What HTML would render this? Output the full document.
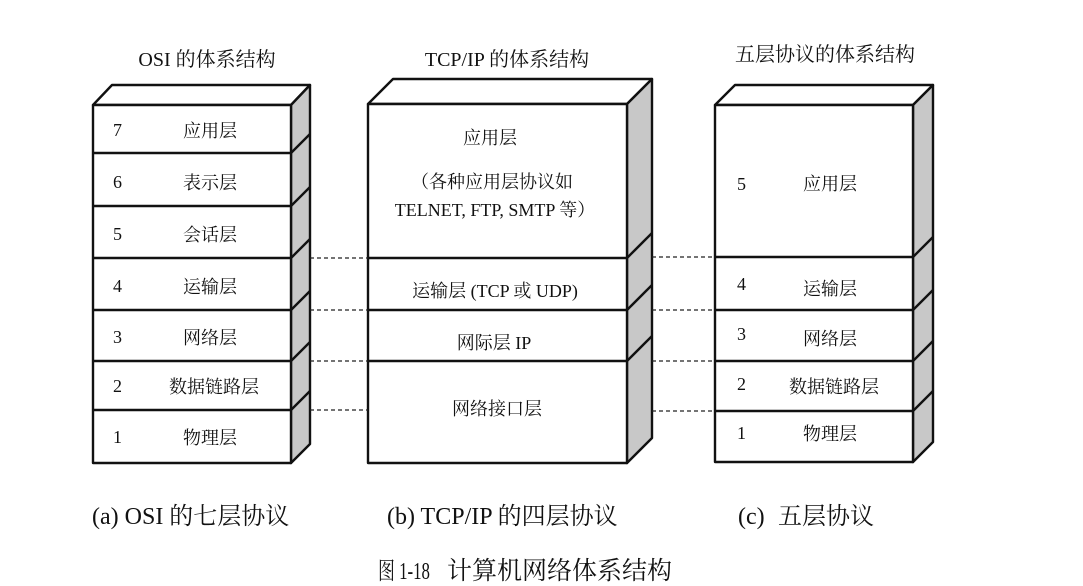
<!DOCTYPE html>
<html><head><meta charset="utf-8"><style>
html,body{margin:0;padding:0;background:#fff;}
svg{display:block;}
text{font-family:"Liberation Serif","Noto Serif CJK SC","Noto Sans CJK SC",serif;fill:#111;}
</style></head><body>
<svg width="1083" height="586" viewBox="0 0 1083 586" xmlns="http://www.w3.org/2000/svg">
<g stroke="#111" stroke-width="2.4" fill="none" stroke-linejoin="round">
<polygon points="93,105 112,85 310,85 291,105" fill="#fff"/>
<polygon points="291,105 310,85 310,444 291,463" fill="#c8c8c8"/>
<rect x="93" y="105" width="198" height="358" fill="#fff"/>
<line x1="93" y1="153" x2="291" y2="153"/><line x1="291" y1="153" x2="310" y2="134"/>
<line x1="93" y1="206" x2="291" y2="206"/><line x1="291" y1="206" x2="310" y2="187"/>
<line x1="93" y1="258" x2="291" y2="258"/><line x1="291" y1="258" x2="310" y2="239"/>
<line x1="93" y1="310" x2="291" y2="310"/><line x1="291" y1="310" x2="310" y2="291"/>
<line x1="93" y1="361" x2="291" y2="361"/><line x1="291" y1="361" x2="310" y2="342"/>
<line x1="93" y1="410" x2="291" y2="410"/><line x1="291" y1="410" x2="310" y2="391"/>
<polygon points="368,104 393,79 652,79 627,104" fill="#fff"/>
<polygon points="627,104 652,79 652,438 627,463" fill="#c8c8c8"/>
<rect x="368" y="104" width="259" height="359" fill="#fff"/>
<line x1="368" y1="258" x2="627" y2="258"/><line x1="627" y1="258" x2="652" y2="233"/>
<line x1="368" y1="310" x2="627" y2="310"/><line x1="627" y1="310" x2="652" y2="285"/>
<line x1="368" y1="361" x2="627" y2="361"/><line x1="627" y1="361" x2="652" y2="336"/>
<polygon points="715,105 735,85 933,85 913,105" fill="#fff"/>
<polygon points="913,105 933,85 933,442 913,462" fill="#c8c8c8"/>
<rect x="715" y="105" width="198" height="357" fill="#fff"/>
<line x1="715" y1="257" x2="913" y2="257"/><line x1="913" y1="257" x2="933" y2="237"/>
<line x1="715" y1="310" x2="913" y2="310"/><line x1="913" y1="310" x2="933" y2="290"/>
<line x1="715" y1="361" x2="913" y2="361"/><line x1="913" y1="361" x2="933" y2="341"/>
<line x1="715" y1="411" x2="913" y2="411"/><line x1="913" y1="411" x2="933" y2="391"/>
</g>
<g stroke="#222" stroke-width="1.3" stroke-dasharray="4,3">
<line x1="310" y1="258" x2="368" y2="258"/><line x1="310" y1="310" x2="368" y2="310"/>
<line x1="310" y1="361" x2="368" y2="361"/><line x1="310" y1="410" x2="368" y2="410"/>
<line x1="652" y1="257" x2="715" y2="257"/><line x1="652" y1="310" x2="715" y2="310"/>
<line x1="652" y1="361" x2="715" y2="361"/><line x1="652" y1="411" x2="715" y2="411"/>
</g>
<g font-size="20" text-anchor="middle">
<text x="207" y="66">OSI 的体系结构</text>
<text x="507" y="66">TCP/IP 的体系结构</text>
<text x="825" y="61">五层协议的体系结构</text>
</g>
<g font-size="18">
<text x="113" y="136">7</text><text x="113" y="188">6</text><text x="113" y="240">5</text>
<text x="113" y="292">4</text><text x="113" y="343">3</text><text x="113" y="392">2</text><text x="113" y="443">1</text>
<text x="737" y="190">5</text><text x="737" y="290">4</text><text x="737" y="340">3</text><text x="737" y="390">2</text><text x="737" y="439">1</text>
</g>
<g font-size="18" text-anchor="middle">
<text x="210" y="137">应用层</text><text x="210" y="189">表示层</text><text x="210" y="241">会话层</text>
<text x="210" y="293">运输层</text><text x="210" y="344">网络层</text><text x="214" y="393">数据链路层</text><text x="210" y="444">物理层</text>
<text x="490" y="144">应用层</text>
<text x="492" y="188">（各种应用层协议如</text>
<text x="495" y="216">TELNET, FTP, SMTP 等）</text>
<text x="495" y="297">运输层 (TCP 或 UDP)</text>
<text x="494" y="349">网际层 IP</text>
<text x="497" y="415">网络接口层</text>
<text x="830" y="190">应用层</text><text x="830" y="295">运输层</text><text x="830" y="345">网络层</text>
<text x="834" y="393">数据链路层</text><text x="830" y="440">物理层</text>
</g>
<g font-size="24">
<text x="92" y="524">(a) OSI 的七层协议</text>
<text x="387" y="524">(b) TCP/IP 的四层协议</text>
<text x="738" y="524">(c)</text>
<text x="778" y="524">五层协议</text>
</g>
<text x="378" y="579" font-size="24" textLength="52" lengthAdjust="spacingAndGlyphs">图 1-18</text>
<text x="447" y="579" font-size="25">计算机网络体系结构</text>
</svg>
</body></html>
